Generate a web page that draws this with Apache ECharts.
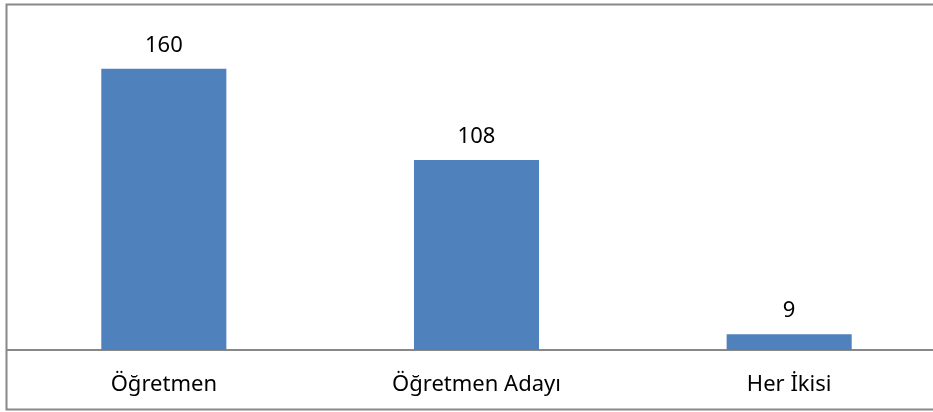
<!DOCTYPE html>
<html>
<head>
<meta charset="utf-8">
<script src="https://cdn.jsdelivr.net/npm/echarts@6/dist/echarts.min.js"></script>
<style>
  html, body { margin: 0; padding: 0; background: #fff; }
  #chart { width: 933px; height: 412px; }
</style>
</head>
<body>
<div id="chart"></div>
<script>
var categories = ['Öğretmen', 'Öğretmen Adayı', 'Her İkisi'];
var counts = [160, 108, 9];

var chart = echarts.init(document.getElementById('chart'));

var option = {
  animation: false,
  textStyle: { fontFamily: 'Noto Sans' },
  graphic: [{
    type: 'rect',
    shape: { x: 6.5, y: 4.5, width: 940, height: 405 },
    style: { fill: 'none', stroke: '#888888', lineWidth: 2 },
    silent: true,
    z: -1
  }],
  grid: {
    left: 7.5,
    right: -12.5,
    top: 33.5,
    bottom: 62,
    outerBoundsMode: 'none'
  },
  xAxis: {
    type: 'category',
    data: categories,
    axisLine: { lineStyle: { color: '#888888', width: 2 } },
    axisTick: { show: false },
    axisLabel: { color: '#000', fontSize: 22, margin: 24 }
  },
  yAxis: {
    type: 'value',
    min: 0,
    max: 180,
    show: false,
    splitLine: { show: false }
  },
  series: [{
    type: 'bar',
    data: counts,
    barWidth: '40%',
    itemStyle: { color: '#4F81BD' },
    label: {
      show: true,
      position: 'top',
      distance: 12,
      color: '#000',
      fontSize: 22
    }
  }]
};

chart.setOption(option);
window.onresize = chart.resize;
</script>
</body>
</html>
